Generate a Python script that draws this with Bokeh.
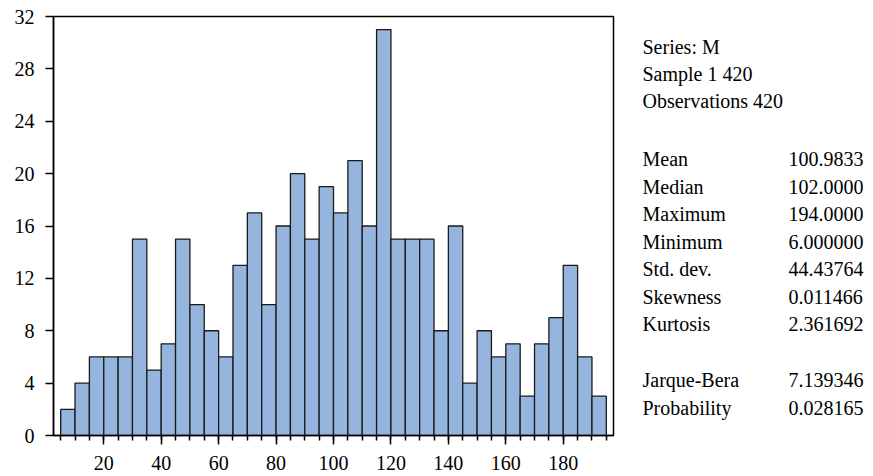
from bokeh.plotting import figure
from bokeh.models import Range1d, FixedTicker
from bokeh.layouts import row
from bokeh.core.properties import value
from bokeh.embed import file_html
from bokeh.resources import INLINE

bin_left = [5, 10, 15, 20, 25, 30, 35, 40, 45, 50, 55, 60, 65, 70, 75, 80, 85, 90, 95,
            100, 105, 110, 115, 120, 125, 130, 135, 140, 145, 150, 155, 160, 165, 170,
            175, 180, 185, 190]
bin_width = 5
counts = [2, 4, 6, 6, 6, 15, 5, 7, 15, 10, 8, 6, 13, 17, 10, 16, 20, 15, 19,
          17, 21, 16, 31, 15, 15, 15, 8, 16, 4, 8, 6, 7, 3, 7,
          9, 13, 6, 3]
x_major_ticks = [20, 40, 60, 80, 100, 120, 140, 160, 180]
y_ticks = [0, 4, 8, 12, 16, 20, 24, 28, 32]

stat_header = ["Series: M", "Sample 1 420", "Observations 420"]
stat_names = ["Mean", "Median", "Maximum", "Minimum", "Std. dev.", "Skewness", "Kurtosis",
              "Jarque-Bera", "Probability"]
stat_values = ["100.9833", "102.0000", "194.0000", "6.000000", "44.43764", "0.011466",
               "2.361692", "7.139346", "0.028165"]

FONT = "Liberation Serif"
FS = "20px"
FS_STATS = "20px"

p = figure(width=623, height=472, output_backend="svg", toolbar_location=None,
           x_range=Range1d(2.5, 197.5), y_range=Range1d(0, 32),
           min_border_left=53, min_border_top=16, min_border_right=10, min_border_bottom=37)
p.background_fill_color = "white"
p.border_fill_color = "white"
p.outline_line_color = "black"
p.outline_line_width = 1.5
p.grid.visible = False

lefts = bin_left
rights = [b + bin_width for b in bin_left]
p.quad(left=lefts, right=rights, bottom=0, top=counts,
       fill_color="#95b5de", line_color="#1a1a1a", line_width=1.3)

xa = p.xaxis[0]
xa.ticker = FixedTicker(ticks=x_major_ticks, minor_ticks=[5 + 5 * i for i in range(39)])
xa.major_tick_out = 9
xa.major_tick_in = 0
xa.minor_tick_out = 5
xa.minor_tick_in = 0
xa.axis_line_width = 1.5
xa.major_tick_line_width = 1.5
xa.minor_tick_line_width = 1.5
xa.major_label_text_font = FONT
xa.major_label_text_font_size = FS
xa.major_label_text_color = "black"
xa.major_label_standoff = 11
xa.axis_line_color = "black"

ya = p.yaxis[0]
ya.ticker = FixedTicker(ticks=y_ticks, minor_ticks=[])
ya.major_tick_out = 8
ya.major_tick_in = 0
ya.minor_tick_out = 0
ya.minor_tick_in = 0
ya.axis_line_width = 1.5
ya.major_tick_line_width = 1.5
ya.major_label_text_font = FONT
ya.major_label_text_font_size = FS
ya.major_label_text_color = "black"
ya.major_label_standoff = 11
ya.axis_line_color = "black"

# Stats panel (its frame is aligned with the histogram frame: page y 16..435)
p2 = figure(width=246, height=472, output_backend="svg", toolbar_location=None,
            x_range=Range1d(0, 246), y_range=Range1d(435, 16),
            x_axis_location=None, y_axis_location=None,
            min_border=0, min_border_left=0, min_border_right=0,
            min_border_top=16, min_border_bottom=37)
p2.grid.visible = False
p2.outline_line_color = None
p2.background_fill_color = "white"
p2.border_fill_color = "white"

header_y = [46.5, 73, 100]
stat_y = [158.5, 186, 213.5, 241, 268.5, 296, 323.5, 379.5, 407]

p2.text(x=[19] * len(stat_header), y=header_y, text=stat_header,
        text_font=value(FONT), text_font_size=FS_STATS, text_baseline="middle",
        text_align="left", text_color="black")
p2.text(x=[19] * len(stat_names), y=stat_y, text=stat_names,
        text_font=value(FONT), text_font_size=FS_STATS, text_baseline="middle",
        text_align="left", text_color="black")
p2.text(x=[165] * len(stat_values), y=stat_y, text=stat_values,
        text_font=value(FONT), text_font_size=FS_STATS, text_baseline="middle",
        text_align="left", text_color="black")

layout = row(p, p2)
open("out.html", "w").write(file_html(layout, INLINE))
